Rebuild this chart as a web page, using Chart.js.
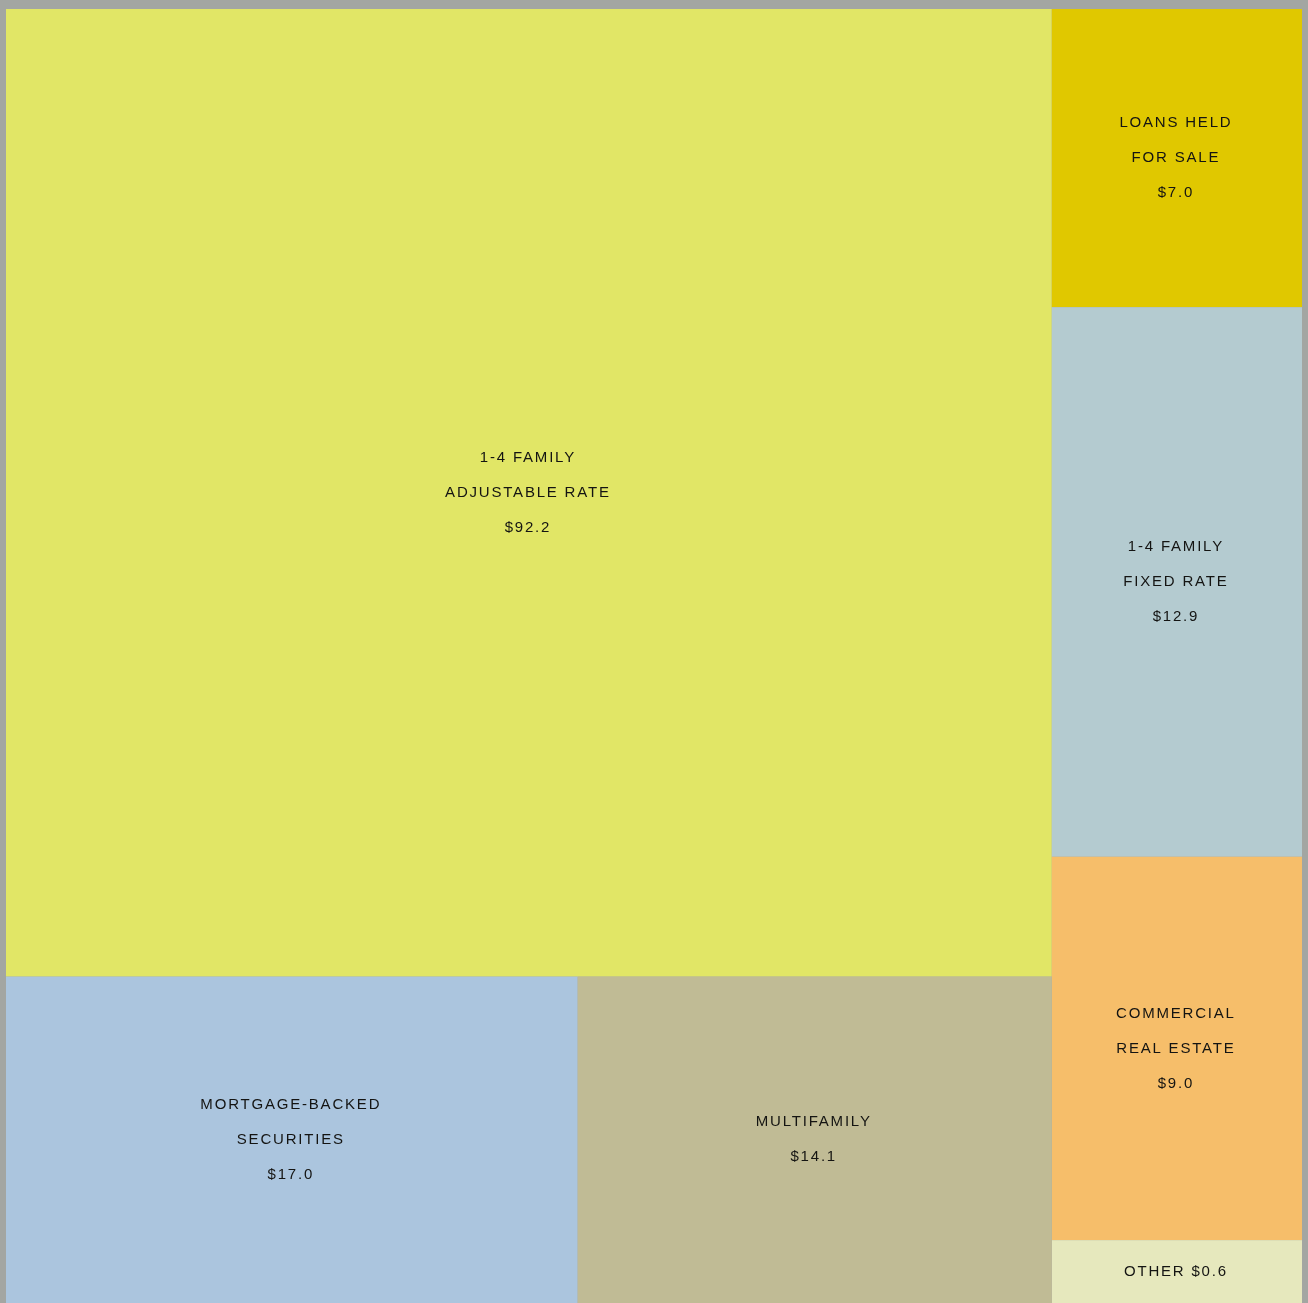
<!DOCTYPE html>
<html>
<head>
<meta charset="utf-8">
<script src="https://cdn.jsdelivr.net/npm/chart.js@4/dist/chart.umd.min.js"></script>
<style>
    html, body { margin: 0; padding: 0; background: #a3a6a2; }
    #wrap { width: 1308px; height: 1303px; }
</style>
</head>
<body>
<div id="wrap"><canvas id="tree"></canvas></div>
<script>
/* =========================
   DATA
========================= */

const labels = [
    ["1-4 FAMILY", "ADJUSTABLE RATE"],
    ["LOANS HELD", "FOR SALE"],
    ["1-4 FAMILY", "FIXED RATE"],
    ["COMMERCIAL", "REAL ESTATE"],
    ["OTHER"],
    ["MORTGAGE-BACKED", "SECURITIES"],
    ["MULTIFAMILY"]
];
const values = [92.2, 7.0, 12.9, 9.0, 0.6, 17.0, 14.1];
const colors = ["#e1e666", "#e0c800", "#b4cbd0", "#f6be6a", "#e6e8bd", "#abc5de", "#c0bb95"];

// tree structure: left block = big tile over a row, right block = column
const bigTile = 0;
const bottomRow = [5, 6];
const rightColumn = [1, 2, 3, 4];

/* =========================
   LAYOUT (in value units, 0..1)
========================= */

function weights(ids, minShare) {
    let sum = ids.reduce((a, i) => a + values[i], 0);
    return ids.map(i => Math.max(values[i], sum * minShare));
}

function split(ids, x0, x1, y0, y1, horizontal, out) {
    let w = weights(ids, 0.05);
    let total = w.reduce((a, b) => a + b, 0);
    let pos = horizontal ? x0 : y0;
    ids.forEach((id, k) => {
        let len = (horizontal ? (x1 - x0) : (y1 - y0)) * w[k] / total;
        if (horizontal) out[id] = { x0: pos, x1: pos + len, y0, y1 };
        else out[id] = { x0, x1, y0: pos, y1: pos + len };
        pos += len;
    });
}

function layout() {
    let out = [];
    let total = values.reduce((a, b) => a + b, 0);
    let leftSum = values[bigTile] + bottomRow.reduce((a, i) => a + values[i], 0);
    let xs = leftSum / total;
    let ys = values[bigTile] / leftSum;
    out[bigTile] = { x0: 0, x1: xs, y0: 0, y1: ys };
    split(bottomRow, 0, xs, ys, 1, true, out);
    split(rightColumn, xs, 1, 0, 1, false, out);
    return out;
}

const rects = layout();

/* =========================
   DRAW
========================= */

const treemapPlugin = {
    id: "treemap",
    beforeDatasetsDraw(chart) {
        const ctx = chart.ctx;
        const x = chart.scales.x;
        const y = chart.scales.y;

        rects.forEach((r, i) => {
            let px0 = x.getPixelForValue(r.x0);
            let px1 = x.getPixelForValue(r.x1);
            let py0 = y.getPixelForValue(r.y0);
            let py1 = y.getPixelForValue(r.y1);
            ctx.fillStyle = colors[i];
            ctx.fillRect(px0, py0, px1 - px0, py1 - py0);
        });

        ctx.save();
        ctx.font = "15px 'Liberation Sans', Arial, sans-serif";
        ctx.fillStyle = "#141412";
        ctx.textAlign = "center";
        ctx.textBaseline = "middle";
        ctx.letterSpacing = "1.8px";

        rects.forEach((r, i) => {
            // trailing letter spacing pushes centred text right, pull it back
            let cx = (x.getPixelForValue(r.x0) + x.getPixelForValue(r.x1)) / 2 - 1;
            let cy = (y.getPixelForValue(r.y0) + y.getPixelForValue(r.y1)) / 2;
            let money = "$" + values[i].toFixed(1);
            let lines = labels[i].length === 1 && values[i] < 1
                ? [labels[i][0] + " " + money]
                : labels[i].concat([money]);
            let gap = 35;
            let top = cy - (lines.length - 1) * gap / 2;
            lines.forEach((t, k) => ctx.fillText(t, cx, top + k * gap));
        });
        ctx.restore();
    }
};

new Chart(document.getElementById("tree"), {
    type: "scatter",
    data: { datasets: [{ data: [], pointRadius: 0 }] },
    options: {
        responsive: true,
        maintainAspectRatio: false,
        animation: false,
        layout: { padding: { left: 6, right: 6, top: 9, bottom: 0 } },
        plugins: { legend: { display: false }, tooltip: { enabled: false } },
        scales: {
            x: { type: "linear", min: 0, max: 1, display: false },
            y: { type: "linear", min: 0, max: 1, reverse: true, display: false }
        }
    },
    plugins: [treemapPlugin]
});
</script>
</body>
</html>
